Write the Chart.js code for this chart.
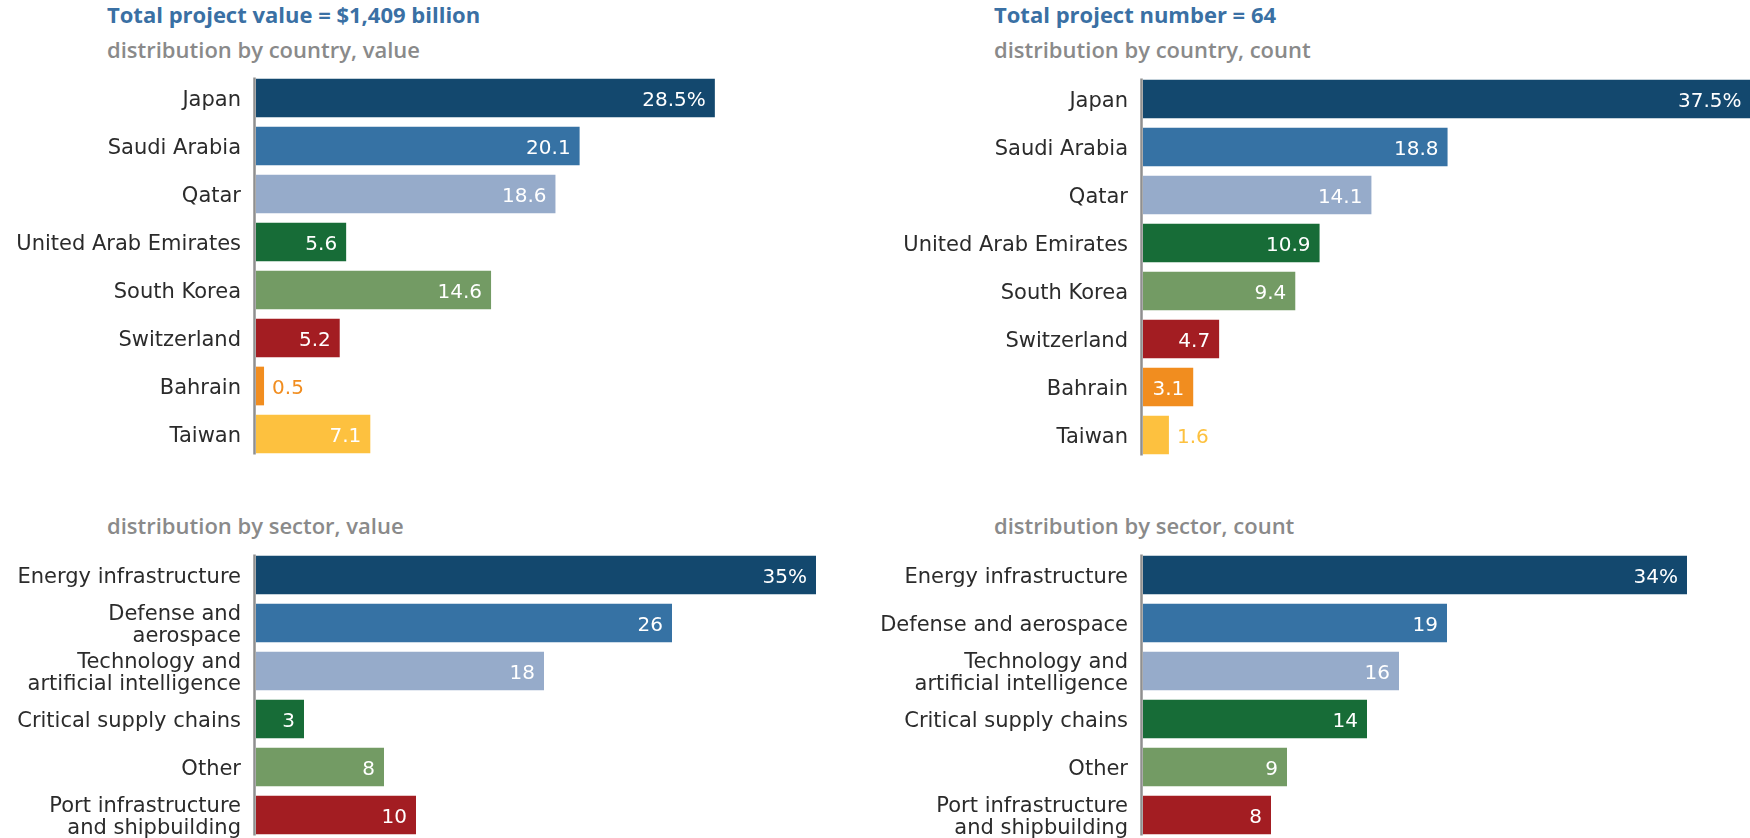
<!DOCTYPE html>
<html>
<head>
<meta charset="utf-8">
<script src="https://cdn.jsdelivr.net/npm/chart.js@4.4.1/dist/chart.umd.min.js"></script>
<style>
  html, body { margin: 0; padding: 0; width: 1750px; height: 838px; overflow: hidden; background: #fff; font-family: "Open Sans", sans-serif; }
  .title { position: absolute; font-size: 22px; font-weight: 700; color: #3a70a4; line-height: 1; white-space: nowrap; }
  .sub { position: absolute; font-size: 22px; font-weight: 600; color: #8a8a8a; line-height: 1; white-space: nowrap; }
  canvas { position: absolute; }
</style>
</head>
<body>

<div class="title" style="left:107px; top:3px;">Total project value = $1,409 billion</div>
<div class="sub" style="left:107px; top:38px;">distribution by country, value</div>
<div class="sub" style="left:107px; top:514px;">distribution by sector, value</div>

<div class="title" style="left:994px; top:3px;">Total project number = 64</div>
<div class="sub" style="left:994px; top:38px;">distribution by country, count</div>
<div class="sub" style="left:994px; top:514px;">distribution by sector, count</div>

<canvas id="countryValue" width="896" height="384" style="left:0; top:74px;"></canvas>
<canvas id="countryCount" width="903" height="384" style="left:880px; top:75px;"></canvas>
<canvas id="sectorValue" width="896" height="288" style="left:0; top:551px;"></canvas>
<canvas id="sectorCount" width="903" height="288" style="left:880px; top:551px;"></canvas>

<script>
// Données (parts en %)
const countries = ['Japan', 'Saudi Arabia', 'Qatar', 'United Arab Emirates', 'South Korea', 'Switzerland', 'Bahrain', 'Taiwan'];
const countryValueShare = [28.5, 20.1, 18.6, 5.6, 14.6, 5.2, 0.5, 7.1];
const countryCountShare = [37.5, 18.8, 14.1, 10.9, 9.4, 4.7, 3.1, 1.6];

const sectorsValueLabels = ['Energy infrastructure', ['Defense and', 'aerospace'], ['Technology and', 'artificial intelligence'], 'Critical supply chains', 'Other', ['Port infrastructure', 'and shipbuilding']];
const sectorsCountLabels = ['Energy infrastructure', 'Defense and aerospace', ['Technology and', 'artificial intelligence'], 'Critical supply chains', 'Other', ['Port infrastructure', 'and shipbuilding']];
const sectorValueShare = [35, 26, 18, 3, 8, 10];
const sectorCountShare = [34, 19, 16, 14, 9, 8];

const palette = ['#13486e', '#3672a4', '#96abca', '#176c37', '#739b64', '#a31d22', '#f18d1f', '#fdc13f'];

const LABEL_FONT = '"DejaVu Sans", sans-serif';

// Étiquettes de valeur : dedans en blanc, ou dehors dans la couleur de la barre
const valueLabels = {
    id: 'valueLabels',
    afterDatasetsDraw(chart, args, opts) {
        const ctx = chart.ctx;
        const ds = chart.data.datasets[0];
        ctx.save();
        ctx.font = '20px ' + LABEL_FONT;
        ctx.textBaseline = 'middle';
        chart.getDatasetMeta(0).data.forEach((bar, i) => {
            const txt = ds.data[i].toFixed(opts.decimals) + (i === 0 ? '%' : '');
            const w = ctx.measureText(txt).width;
            if (w + 18 < bar.x - bar.base) {
                ctx.fillStyle = '#fff';
                ctx.textAlign = 'right';
                ctx.fillText(txt, bar.x - 9, bar.y + 3);
            } else {
                ctx.fillStyle = ds.backgroundColor[i];
                ctx.textAlign = 'left';
                ctx.fillText(txt, bar.x + 8, bar.y + 3);
            }
        });
        ctx.restore();
    }
};

// Trait vertical gris à gauche des barres
const axisLine = {
    id: 'axisLine',
    afterDraw(chart) {
        const { ctx, chartArea } = chart;
        ctx.save();
        ctx.strokeStyle = '#8f8f8f';
        ctx.lineWidth = 2.5;
        ctx.beginPath();
        ctx.moveTo(chartArea.left - 1.5, chartArea.top + 3.5);
        ctx.lineTo(chartArea.left - 1.5, chartArea.bottom - 3.5);
        ctx.stroke();
        ctx.restore();
    }
};

function createBarChart(canvasId, labels, data, decimals, axisWidth, pxPerUnit) {
    const areaWidth = 640;
    return new Chart(document.getElementById(canvasId), {
        type: 'bar',
        data: {
            labels: labels,
            datasets: [{
                data: data,
                backgroundColor: palette.slice(0, data.length),
                borderWidth: 0,
                barPercentage: 0.806,
                categoryPercentage: 1
            }]
        },
        plugins: [valueLabels, axisLine],
        options: {
            indexAxis: 'y',
            responsive: false,
            animation: false,
            layout: { padding: 0 },
            plugins: {
                legend: { display: false },
                tooltip: { enabled: false },
                valueLabels: { decimals: decimals }
            },
            scales: {
                x: { display: false, min: 0, max: areaWidth / pxPerUnit },
                y: {
                    grid: { display: false, drawTicks: false },
                    border: { display: false },
                    ticks: {
                        padding: 15,
                        labelOffset: 3,
                        autoSkip: false,
                        color: '#2b2b2b',
                        font: { family: LABEL_FONT, size: 21, lineHeight: 1.05 }
                    },
                    afterFit(scale) {
                        scale.width = axisWidth;
                        scale.paddingTop = 0;
                        scale.paddingBottom = 0;
                    }
                }
            }
        }
    });
}

createBarChart('countryValue', countries, countryValueShare, 1, 256, 16.1);
createBarChart('countryCount', countries, countryCountShare, 1, 263, 16.2);
createBarChart('sectorValue', sectorsValueLabels, sectorValueShare, 0, 256, 16.0);
createBarChart('sectorCount', sectorsCountLabels, sectorCountShare, 0, 263, 16.0);
</script>
</body>
</html>
